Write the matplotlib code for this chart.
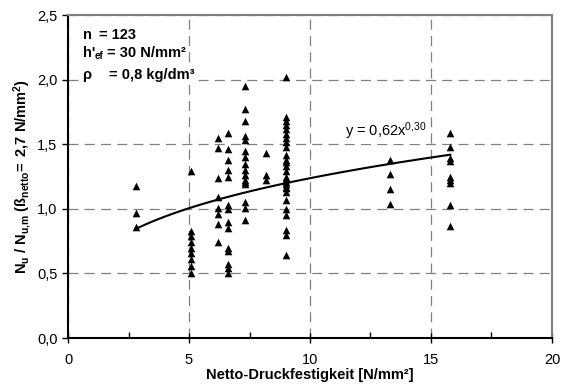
import matplotlib
matplotlib.use('Agg')
import matplotlib.pyplot as plt
from matplotlib.patches import Rectangle
from matplotlib.ticker import FuncFormatter, MultipleLocator
import numpy as np

plt.rcParams['font.family'] = ['Liberation Sans', 'DejaVu Sans']
plt.rcParams['mathtext.fontset'] = 'custom'
plt.rcParams['mathtext.rm'] = 'Liberation Sans'
plt.rcParams['mathtext.it'] = 'Liberation Sans:italic'
plt.rcParams['mathtext.bf'] = 'Liberation Sans:bold'

# Messwerte je Festigkeitsstufe
x_28 = [2.8] * 3
y_28 = [1.18, 0.97, 0.86]
x_51 = [5.1] * 9
y_51 = [1.29, 0.83, 0.79, 0.74, 0.70, 0.66, 0.61, 0.56, 0.50]
x_62 = [6.2] * 8
y_62 = [1.55, 1.47, 1.24, 1.09, 1.01, 0.96, 0.88, 0.74]
x_66 = [6.6] * 14
y_66 = [1.59, 1.46, 1.38, 1.30, 1.25, 1.03, 1.00, 0.90, 0.85, 0.70, 0.67, 0.57, 0.54, 0.50]
x_73 = [7.3] * 16
y_73 = [1.95, 1.77, 1.68, 1.56, 1.53, 1.45, 1.40, 1.35, 1.30, 1.26, 1.22, 1.19,
        1.05, 1.01, 0.91, 1.21]
x_82 = [8.2] * 3
y_82 = [1.43, 1.26, 1.22]
x_90 = [9.0] * 27
y_90 = [2.02, 1.71, 1.68, 1.65, 1.62, 1.58, 1.55, 1.52, 1.48, 1.42, 1.33, 1.29,
        1.25, 1.21, 1.17, 1.16, 1.13, 1.07, 1.00, 0.95, 0.84, 0.80, 0.64, 1.19,
        1.23, 1.36, 1.38]
x_133 = [13.3] * 4
y_133 = [1.38, 1.27, 1.15, 1.04]
x_158 = [15.8] * 9
y_158 = [1.59, 1.48, 1.39, 1.37, 1.25, 1.22, 1.20, 1.03, 0.87]

xs = x_28 + x_51 + x_62 + x_66 + x_73 + x_82 + x_90 + x_133 + x_158
ys = y_28 + y_51 + y_62 + y_66 + y_73 + y_82 + y_90 + y_133 + y_158

# Potenz-Trendlinie y = 0,62 x^0,30
fit_a = 0.62
fit_b = 0.30
fit_x = np.linspace(2.8, 15.8, 100)
fit_y = fit_a * fit_x ** fit_b

fig = plt.figure(figsize=(5.64, 3.89), dpi=100)
ax = fig.add_axes([0.1206, 0.131, 0.8581, 0.8304])

ax.scatter(xs, ys, marker='^', s=30, color='black', zorder=3, linewidths=0)
ax.plot(fit_x, fit_y, color='black', lw=1.5, zorder=4)

ax.set_xlim(0, 20)
ax.set_ylim(0, 2.5)
ax.xaxis.set_major_locator(MultipleLocator(5))
ax.xaxis.set_minor_locator(MultipleLocator(2.5))
ax.yaxis.set_major_locator(MultipleLocator(0.5))
ax.yaxis.set_major_formatter(FuncFormatter(lambda v, p: f'{v:.1f}'.replace('.', ',')))
ax.xaxis.set_major_formatter(FuncFormatter(lambda v, p: f'{v:.0f}'))

ax.grid(True, which='major', color='#808080', linestyle=(0, (8, 5)), lw=0.9)
ax.set_axisbelow(True)

ax.tick_params(axis='x', which='major', direction='inout', length=7, width=1, labelsize=10.5, pad=7)
ax.tick_params(axis='x', which='minor', direction='in', length=4, width=1)
ax.tick_params(axis='y', which='major', direction='out', length=4, width=1, labelsize=10.5)

for s in ['left', 'bottom']:
    ax.spines[s].set_color('black')
    ax.spines[s].set_linewidth(1.5)
for s in ['top', 'right']:
    ax.spines[s].set_color('#808080')
    ax.spines[s].set_linewidth(1.5)

ax.set_xlabel('Netto-Druckfestigkeit [N/mm²]', fontsize=10.5, fontweight='bold', labelpad=1)
ax.set_ylabel(r'$\mathbf{N_u\ /\ N_{u{,}m}\ (ß_{netto}\!=\ 2{,}7\ N/mm^2)}$',
              fontsize=10.5, labelpad=3)

# weisser Hintergrund hinter dem Textblock
ax.add_patch(Rectangle((0.5, 1.97), 1.3, 0.47, facecolor='white', edgecolor='none', zorder=2))

bg = dict(facecolor='white', edgecolor='none', pad=1)
tkw = dict(fontsize=10.5, fontweight='bold', va='center', zorder=5)
ax.text(0.6, 2.345, 'n', bbox=bg, **tkw)
ax.text(1.3, 2.345, '= 123', bbox=bg, **tkw)
ax.text(0.6, 2.205, "h'", bbox=bg, **tkw)
ax.text(1.08, 2.18, 'ef', fontsize=7, fontweight='bold', va='center', zorder=6)
ax.text(1.6, 2.205, '= 30 N/mm²', bbox=bg, **tkw)
ax.text(0.6, 2.035, 'ρ', bbox=bg, **tkw)
ax.text(1.7, 2.035, '= 0,8 kg/dm³', bbox=bg, **tkw)

ax.text(11.45, 1.60, r'y = 0,62x$^{0{,}30}$', fontsize=10.5, va='center',
        bbox=dict(facecolor='white', edgecolor='none', pad=1), zorder=5)

fig.savefig('out.png', dpi=100, facecolor='white')
